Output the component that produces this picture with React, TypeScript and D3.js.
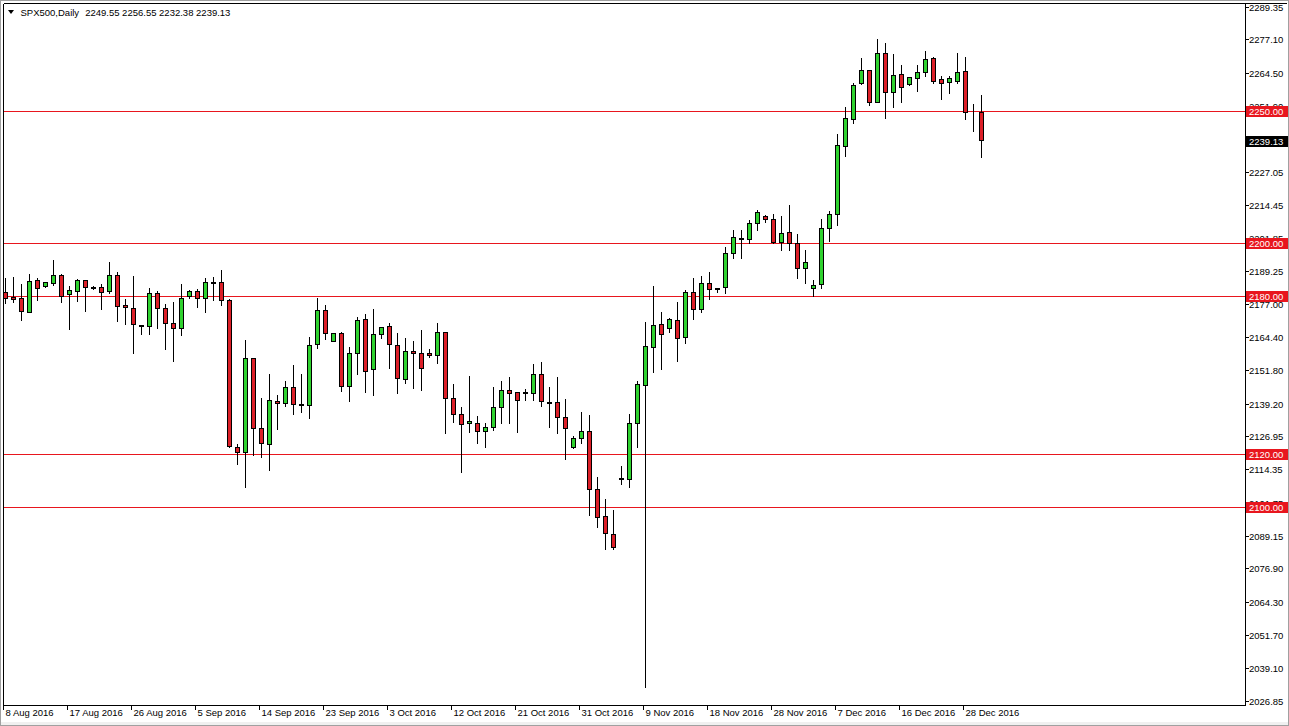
import React from 'react';
import * as d3 from 'd3';

// ---- data ----
const opens = [
  2181.3, 2179.6, 2179.1, 2174.0, 2186.0, 2183.7, 2185.0, 2187.9, 2180.6, 2182.0,
  2186.0, 2183.2, 2183.2, 2182.0, 2187.9, 2176.5, 2175.4, 2168.8, 2168.7, 2181.0,
  2175.4, 2169.9, 2168.0, 2179.8, 2181.8, 2179.1, 2185.0, 2185.1, 2178.4, 2122.9,
  2120.8, 2156.4, 2129.9, 2123.8, 2140.2, 2139.3, 2145.4, 2139.0, 2138.7, 2161.7,
  2174.6, 2163.0, 2165.8, 2146.0, 2158.3, 2171.1, 2152.2, 2165.4, 2168.6, 2161.4,
  2148.5, 2159.1, 2158.3, 2158.5, 2157.6, 2166.2, 2141.5, 2135.2, 2131.8, 2131.8,
  2128.8, 2130.2, 2137.8, 2144.4, 2143.5, 2143.5, 2143.1, 2150.4, 2139.8, 2139.7,
  2134.0, 2122.9, 2126.1, 2128.8, 2106.8, 2096.7, 2089.7, 2111.2, 2110.6, 2131.8,
  2146.1, 2160.8, 2169.2, 2167.7, 2170.7, 2164.3, 2181.6, 2174.9, 2184.8, 2182.8,
  2183.2, 2196.1, 2202.0, 2201.4, 2207.5, 2210.2, 2209.0, 2200.5, 2204.1, 2199.9,
  2190.4, 2182.9, 2184.4, 2205.6, 2210.9, 2236.8, 2246.8, 2260.7, 2265.5, 2253.5,
  2271.8, 2257.0, 2263.9, 2260.2, 2262.3, 2264.6, 2269.9, 2262.0, 2260.8, 2261.4,
  2265.1, 2249.7, 2249.55,
];
const highs = [
  2187.2, 2187.5, 2184.8, 2188.5, 2187.0, 2185.2, 2193.9, 2188.5, 2184.1, 2186.6,
  2186.5, 2184.1, 2184.8, 2193.3, 2189.5, 2179.2, 2187.9, 2169.0, 2183.5, 2182.2,
  2177.3, 2178.0, 2184.8, 2182.6, 2183.1, 2187.1, 2187.4, 2190.2, 2179.1, 2124.2,
  2163.6, 2156.7, 2141.8, 2150.9, 2142.9, 2148.2, 2154.2, 2150.9, 2164.8, 2179.6,
  2176.9, 2166.4, 2166.8, 2161.1, 2172.4, 2173.6, 2175.3, 2168.6, 2170.2, 2166.4,
  2164.3, 2163.3, 2167.3, 2160.1, 2170.0, 2166.4, 2146.9, 2138.4, 2150.0, 2134.9,
  2132.4, 2145.9, 2148.2, 2149.7, 2143.6, 2145.2, 2154.7, 2155.3, 2145.9, 2149.7,
  2141.2, 2127.3, 2136.4, 2135.2, 2111.8, 2103.4, 2099.2, 2116.0, 2135.5, 2148.2,
  2170.5, 2184.1, 2174.3, 2171.9, 2178.1, 2182.5, 2187.2, 2187.9, 2189.4, 2183.5,
  2198.9, 2205.2, 2205.2, 2209.0, 2212.8, 2210.9, 2211.5, 2210.6, 2214.8, 2203.7,
  2197.6, 2186.3, 2209.4, 2212.5, 2241.8, 2251.9, 2261.1, 2270.5, 2265.7, 2277.5,
  2276.2, 2272.0, 2267.8, 2263.2, 2267.8, 2273.1, 2270.8, 2263.6, 2263.6, 2272.4,
  2270.8, 2253.1, 2256.55,
];
const lows = [
  2177.2, 2177.8, 2170.9, 2173.7, 2178.4, 2183.3, 2184.1, 2177.8, 2167.6, 2178.2,
  2174.3, 2182.7, 2175.2, 2181.0, 2170.5, 2169.3, 2158.3, 2165.6, 2165.7, 2167.8,
  2159.9, 2155.3, 2165.3, 2179.3, 2175.8, 2174.0, 2178.3, 2176.7, 2122.9, 2116.2,
  2107.8, 2119.8, 2119.1, 2114.1, 2129.6, 2138.3, 2135.2, 2136.2, 2133.7, 2160.1,
  2163.6, 2162.9, 2144.1, 2140.3, 2150.4, 2143.7, 2142.5, 2163.9, 2152.8, 2143.1,
  2147.1, 2145.0, 2144.4, 2156.7, 2154.5, 2128.0, 2132.4, 2113.4, 2128.6, 2124.4,
  2122.7, 2129.2, 2132.0, 2131.8, 2128.6, 2140.6, 2140.6, 2138.3, 2130.5, 2128.2,
  2118.1, 2122.3, 2124.4, 2097.1, 2092.6, 2084.1, 2084.0, 2108.6, 2107.8, 2122.9,
  2032.1, 2151.3, 2152.2, 2166.4, 2155.5, 2162.3, 2171.1, 2174.0, 2178.7, 2181.6,
  2181.0, 2194.2, 2194.4, 2200.1, 2204.9, 2208.1, 2199.9, 2197.4, 2197.4, 2186.6,
  2185.0, 2179.9, 2182.9, 2200.9, 2206.8, 2233.0, 2245.3, 2260.2, 2252.2, 2253.4,
  2247.4, 2251.6, 2253.5, 2259.8, 2257.7, 2263.3, 2260.7, 2254.4, 2256.9, 2260.7,
  2246.8, 2242.5, 2232.38,
];
const closes = [
  2179.3, 2178.8, 2174.4, 2185.6, 2183.1, 2185.1, 2187.8, 2180.0, 2182.2, 2186.0,
  2183.5, 2183.0, 2181.6, 2187.9, 2176.3, 2175.7, 2169.5, 2168.7, 2181.0, 2175.3,
  2169.8, 2167.9, 2179.1, 2181.8, 2179.1, 2185.2, 2185.1, 2178.6, 2123.3, 2120.8,
  2156.4, 2129.9, 2124.2, 2140.6, 2139.3, 2145.4, 2139.0, 2138.6, 2161.4, 2174.6,
  2165.8, 2165.8, 2146.0, 2158.3, 2170.9, 2151.7, 2165.6, 2168.3, 2161.7, 2149.0,
  2159.2, 2158.3, 2152.6, 2157.6, 2166.2, 2141.2, 2135.3, 2131.4, 2132.7, 2128.8,
  2130.5, 2137.8, 2144.4, 2143.1, 2140.6, 2143.2, 2150.4, 2140.2, 2139.6, 2134.0,
  2129.9, 2126.1, 2128.8, 2106.8, 2096.4, 2090.1, 2084.8, 2110.6, 2131.8, 2146.5,
  2161.0, 2169.0, 2165.6, 2171.1, 2163.9, 2181.6, 2174.9, 2184.8, 2182.5, 2182.7,
  2196.1, 2202.2, 2201.5, 2207.5, 2211.6, 2209.0, 2200.5, 2203.7, 2200.1, 2190.4,
  2192.7, 2184.0, 2205.6, 2211.0, 2237.1, 2247.2, 2259.8, 2265.5, 2253.5, 2271.8,
  2257.0, 2263.6, 2259.2, 2262.7, 2264.6, 2269.5, 2261.4, 2260.7, 2262.3, 2264.6,
  2249.5, 2249.5, 2239.13,
];

const priceTicks = [
  2289.35, 2277.10, 2264.50, 2251.90, 2239.30, 2227.05, 2214.45, 2201.85, 2189.25,
  2177.00, 2164.40, 2151.80, 2139.20, 2126.95, 2114.35, 2101.75, 2089.15, 2076.90,
  2064.30, 2051.70, 2039.10, 2026.85,
];
const levelLines = [2250.0, 2200.0, 2180.0, 2120.0, 2100.0];
const dateLabels = [
  '8 Aug 2016', '17 Aug 2016', '26 Aug 2016', '5 Sep 2016', '14 Sep 2016', '23 Sep 2016',
  '3 Oct 2016', '12 Oct 2016', '21 Oct 2016', '31 Oct 2016', '9 Nov 2016', '18 Nov 2016',
  '28 Nov 2016', '7 Dec 2016', '16 Dec 2016', '28 Dec 2016',
];
const dateLabelStep = 8;
const symbolTitle = 'SPX500,Daily';
const lastBar = { o: '2249.55', h: '2256.55', l: '2232.38', c: '2239.13' };
const lastPrice = 2239.13;

// ---- layout ----
const W = 1289;
const H = 726;
const plotLeft = 3;
const plotTop = 3;
const plotRight = 1245;
const plotBottom = 705;
const FONT = "'Liberation Sans', Arial, sans-serif";
const BULL = '#2fd22f';
const BEAR = '#dc1f28';
const LEVEL = '#e8161e';

export default function App() {
  const n = opens.length;
  const x = d3.scaleLinear().domain([0, n - 1]).range([5.5, 981.5]);
  const y = d3.scaleLinear().domain([2026.85, 2289.35]).range([700.5, 6.9]);
  const py = (v: number) => Math.round(y(v)) + 0.5;

  const candles = d3.range(n).map((i) => {
    const cx = Math.floor(x(i)) + 0.5;
    const o = opens[i];
    const c = closes[i];
    const top = Math.round(y(Math.max(o, c)));
    const bot = Math.round(y(Math.min(o, c)));
    const fill = c > o ? BULL : c < o ? BEAR : 'none';
    return (
      <g key={i}>
        <line x1={cx} x2={cx} y1={py(highs[i])} y2={py(lows[i])} stroke="#000" strokeWidth={1} />
        <rect x={cx - 2} y={top + 0.5} width={4} height={Math.max(0, bot - top)} fill={fill} stroke="#000" strokeWidth={1} />
      </g>
    );
  });

  return (
    <svg width={W} height={H} style={{ position: 'fixed', left: 0, top: 0, background: '#fff' }} shapeRendering="crispEdges">
      <rect x={0} y={0} width={W} height={H} fill="#fff" />
      {/* window frame */}
      <rect x={0.5} y={0.5} width={W - 1} height={H - 1} fill="none" stroke="#a0a0a0" />
      <rect x={1} y={722} width={W - 2} height={3} fill="#f0f0f0" />
      {/* plot frame */}
      <line x1={plotLeft + 0.5} x2={plotLeft + 0.5} y1={plotTop + 0.5} y2={plotBottom + 0.5} stroke="#000" />
      <line x1={plotLeft + 0.5} x2={W - 2} y1={plotTop + 0.5} y2={plotTop + 0.5} stroke="#000" />
      <line x1={plotRight + 0.5} x2={plotRight + 0.5} y1={plotTop + 0.5} y2={plotBottom + 0.5} stroke="#000" />
      <line x1={plotLeft + 0.5} x2={plotRight + 0.5} y1={plotBottom + 0.5} y2={plotBottom + 0.5} stroke="#000" />

      {/* level lines */}
      {levelLines.map((v) => (
        <rect key={v} x={plotLeft + 1} y={Math.round(y(v))} width={plotRight - plotLeft - 1} height={1} fill={LEVEL} />
      ))}

      {candles}

      {/* price axis */}
      {priceTicks.map((v) => (
        <g key={v}>
          <line x1={plotRight + 1} x2={plotRight + 4} y1={py(v)} y2={py(v)} stroke="#000" />
          <text x={1249} y={Math.min(py(v), 703) + 3.5} fontFamily={FONT} fontSize={9.5} fill="#000" shapeRendering="auto">
            {v.toFixed(2)}
          </text>
        </g>
      ))}
      {levelLines.map((v) => (
        <g key={'lbl' + v}>
          <rect x={plotRight + 1} y={Math.round(y(v)) - 5} width={W - plotRight - 2} height={11} fill={LEVEL} />
          <text x={1249} y={Math.round(y(v)) + 4} fontFamily={FONT} fontSize={9.5} fill="#fff" shapeRendering="auto">
            {v.toFixed(2)}
          </text>
        </g>
      ))}
      <rect x={plotRight + 1} y={Math.round(y(lastPrice)) - 4} width={W - plotRight - 2} height={11} fill="#000" />
      <text x={1249} y={Math.round(y(lastPrice)) + 5} fontFamily={FONT} fontSize={9.5} fill="#fff" shapeRendering="auto">
        {lastPrice.toFixed(2)}
      </text>

      {/* time axis */}
      {dateLabels.map((d, k) => {
        const tx = Math.floor(x(k * dateLabelStep)) - 2 + 0.5;
        return (
          <g key={d}>
            <line x1={tx} x2={tx} y1={plotBottom + 1} y2={plotBottom + 5} stroke="#000" />
            <text x={tx + 2} y={716} fontFamily={FONT} fontSize={9.5} fill="#000" shapeRendering="auto">
              {d}
            </text>
          </g>
        );
      })}

      {/* header */}
      <path d="M8,10 L14,10 L11,14 Z" fill="#000" shapeRendering="auto" />
      <text x={20.5} y={16} fontFamily={FONT} fontSize={9.5} fill="#000" shapeRendering="auto">
        {symbolTitle}
        <tspan dx={6}>{`${lastBar.o} ${lastBar.h} ${lastBar.l} ${lastBar.c}`}</tspan>
      </text>
    </svg>
  );
}
